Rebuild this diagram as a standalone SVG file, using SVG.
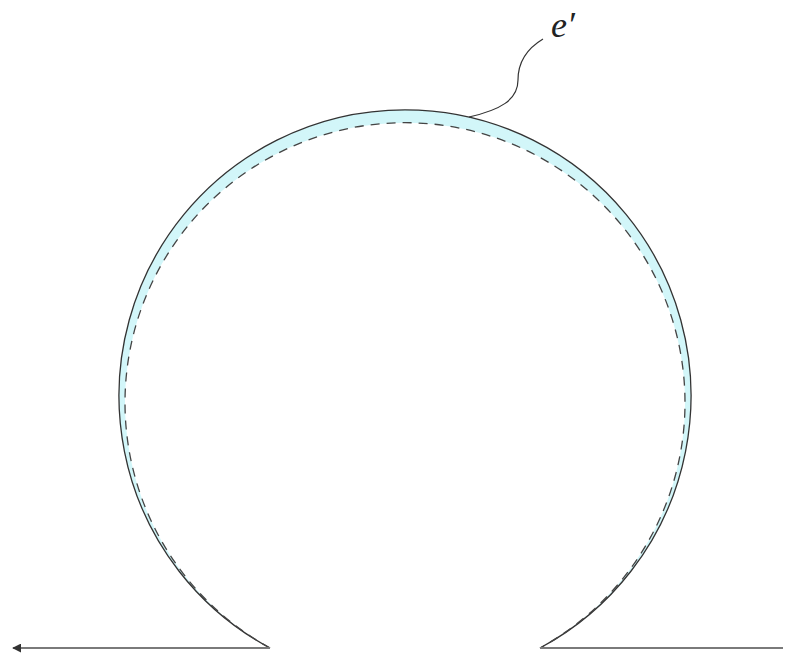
<svg xmlns="http://www.w3.org/2000/svg" width="785" height="654" viewBox="0 0 785 654">
<style>
.outer{fill:none;stroke:#333;stroke-width:1.3}
.inner{fill:none;stroke:#444;stroke-width:1.3;stroke-dasharray:9 7}
.base{fill:none;stroke:#7a7a7a;stroke-width:1.8}
.lead{fill:none;stroke:#333;stroke-width:1.2}
</style>
<defs>
<marker id="arr" viewBox="0 0 10 10" refX="9" refY="5" markerWidth="5" markerHeight="5" orient="auto-start-reverse">
<path d="M0,0 L10,5 L0,10 z" fill="#333"/>
</marker>
</defs>
<g id="band">
<path d="M270,648 A286,286 0 1 1 540,648 A280,280 0 1 0 270,648 Z" fill="#d2f6f9" stroke="none"/>
</g>
<g id="loop">
<path class="outer" d="M270,648 A286,286 0 1 1 540,648"/>
<path class="inner" d="M270,648 A280,280 0 1 1 540,648"/>
</g>
<g id="connectors">
<path class="base" d="M270,648 L13,648" marker-end="url(#arr)"/>
<path class="base" d="M540,648 L783,648"/>
<path class="lead" d="M469,117 C500,110 518,100 518,80 C518,60 528,48 543,39"/>
</g>
<g id="label">
<text x="551" y="37" font-family="'Liberation Serif', 'DejaVu Serif', serif" font-style="italic" font-size="36" fill="#222">e′</text>
</g>
</svg>
